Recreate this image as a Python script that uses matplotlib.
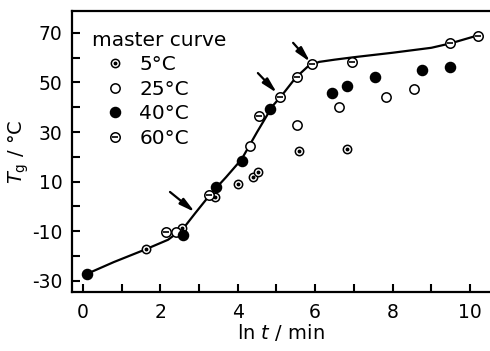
import matplotlib.pyplot as plt
from matplotlib.lines import Line2D

# master curve
curve_x = [0.1, 0.8, 1.6, 2.2, 2.6, 2.9, 3.3, 3.7, 4.1, 4.5, 4.9, 5.15, 5.5, 5.8, 6.1, 6.5, 7.0, 8.0, 9.0, 9.5, 10.2]
curve_y = [-27.3, -22.5, -17.5, -13.5, -8.8, -2.8, 5.0, 11.8, 19.0, 30.0, 40.5, 45.0, 52.0, 56.3, 58.3, 59.2, 60.2, 62.0, 64.0, 65.8, 69.0]

# measured points per ageing temperature
x5 = [1.63, 2.56, 3.41, 4.0, 4.39, 4.52, 5.58, 6.82]
y5 = [-17.3, -8.8, 3.7, 9.0, 11.8, 13.8, 22.3, 23.1]
x25 = [2.40, 4.32, 5.53, 6.62, 7.83, 8.55]
y25 = [-10.4, 24.3, 32.8, 40.1, 44.1, 47.4]
x40 = [0.1, 2.58, 3.44, 4.11, 4.83, 6.43, 6.82, 7.55, 8.76, 9.48]
y40 = [-27.4, -11.6, 7.8, 18.3, 39.3, 45.8, 48.6, 52.2, 55.0, 56.3]
x60 = [2.14, 3.26, 4.55, 5.1, 5.53, 5.92, 6.95, 9.48, 10.2]
y60 = [-10.4, 4.5, 36.5, 44.3, 52.2, 57.5, 58.3, 66.0, 68.8]

# arrows: (tail, tip)
arrows = [((2.25, 5.8), (2.89, -2.3)),
          ((4.52, 53.8), (5.01, 45.8)),
          ((5.43, 66.0), (5.87, 58.3))]

xticks = [0, 2, 4, 6, 8, 10]
yticks = [-30, -10, 10, 30, 50, 70]

plt.rcParams['font.family'] = ['DejaVu Sans']
plt.rcParams['axes.unicode_minus'] = False

fig = plt.figure(figsize=(4.9, 3.51), dpi=100)
ax = fig.add_axes([0.147, 0.168, 0.851, 0.801])

ax.plot(curve_x, curve_y, color='k', lw=1.6, zorder=2)

mk = dict(linestyle='none', mec='k', mew=1.1, zorder=3)
ax.plot(x5, y5, marker='o', mfc='white', ms=6, **mk)
ax.plot(x5, y5, marker='o', color='k', ms=1.8, linestyle='none', zorder=4)
ax.plot(x25, y25, marker='o', mfc='white', ms=6.7, **mk)
ax.plot(x40, y40, marker='o', mfc='k', ms=7.2, **mk)
ax.plot(x60, y60, marker='o', mfc='white', ms=6.8, **mk)
ax.plot(x60, y60, marker='_', color='k', ms=5, mew=1.2, linestyle='none', zorder=4)

for tail, tip in arrows:
    ax.annotate('', xy=tip, xytext=tail,
                arrowprops=dict(arrowstyle='-|>,head_length=0.9,head_width=0.22',
                                lw=1.6, color='k', shrinkA=0, shrinkB=0))

ax.set_xlim(-0.28, 10.49)
ax.set_ylim(-34.6, 78.9)
ax.set_xticks(xticks)
ax.set_xticks([1, 3, 5, 7, 9], minor=True)
ax.set_yticks(yticks)
ax.set_yticks([-20, 0, 20, 40, 60], minor=True)
ax.tick_params(which='both', direction='in', width=1.5, length=6, labelsize=13.5)
ax.tick_params(axis='x', pad=8)
ax.tick_params(axis='y', pad=7)
for s in ['left', 'bottom', 'top']:
    ax.spines[s].set_linewidth(1.6)
ax.spines['right'].set_visible(False)

ax.set_xlabel(r'ln $t$ / min', fontsize=14, labelpad=0)
ax.set_ylabel(r'$T_\mathrm{g}$ / °C', fontsize=14, labelpad=1)

h5 = (Line2D([], [], marker='o', mfc='white', ms=6, **mk),
      Line2D([], [], marker='o', color='k', ms=1.8, linestyle='none'))
h25 = Line2D([], [], marker='o', mfc='white', ms=6.7, **mk)
h40 = Line2D([], [], marker='o', mfc='k', ms=7.2, **mk)
h60 = (Line2D([], [], marker='o', mfc='white', ms=6.8, **mk),
       Line2D([], [], marker='_', color='k', ms=5, mew=1.2, linestyle='none'))
leg = ax.legend([h5, h25, h40, h60], ['5°C', '25°C', '40°C', '60°C'],
                title='master curve', loc='upper left', frameon=False,
                fontsize=14.5, title_fontsize=14.5, handlelength=2.3,
                handletextpad=0.05, labelspacing=0.28, borderpad=0,
                bbox_to_anchor=(0.048, 0.93), borderaxespad=0)
leg._legend_box.align = 'left'

plt.savefig('out.png', dpi=100)
